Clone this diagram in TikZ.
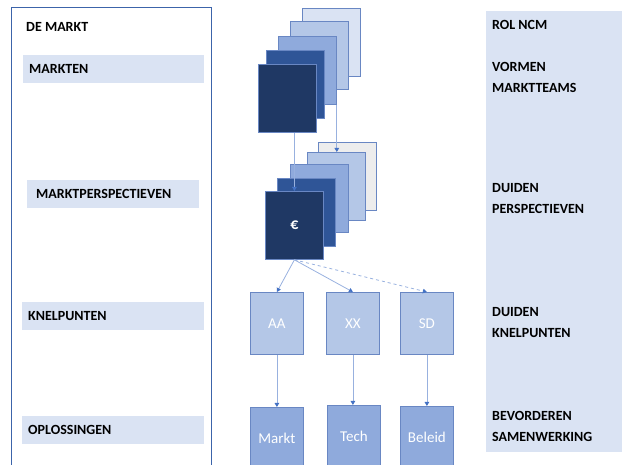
\documentclass[tikz,border=0pt]{standalone}
\usepackage{fontspec}
\setmainfont{Carlito}
\usetikzlibrary{positioning,arrows.meta,calc}
\definecolor{bandblue}{RGB}{218,227,243}
\definecolor{frameblue}{RGB}{60,100,170}
\definecolor{navy}{RGB}{31,56,100}
\definecolor{darkblue}{RGB}{47,85,151}
\definecolor{midblue}{RGB}{143,170,220}
\definecolor{lightblue}{RGB}{180,199,231}
\definecolor{paleblue}{RGB}{218,227,243}
\definecolor{palegrey}{RGB}{237,237,237}
\definecolor{edgeblue}{RGB}{105,135,195}
\definecolor{linkblue}{RGB}{68,114,196}

\begin{document}
\begin{tikzpicture}[x=1pt,y=-1pt,
		band/.style={fill=bandblue,anchor=north west,inner xsep=6pt,inner ysep=0pt,
			minimum height=28pt,align=left,font=\fontsize{14}{16}\selectfont\bfseries},
		role/.style={anchor=west,align=left,inner sep=0pt,
			font=\fontsize{14}{21}\selectfont\bfseries},
		sheet/.style={draw=edgeblue,line width=0.8pt,anchor=north west,inner sep=0pt,
			minimum width=58pt,minimum height=68pt},
		card/.style={draw=edgeblue,line width=0.8pt,anchor=north west,inner sep=0pt,
			minimum width=53pt,minimum height=62pt,text=white,font=\fontsize{15}{17}\selectfont},
		link/.style={draw=linkblue!55,line width=0.8pt,
			-{Triangle[length=4pt,width=4.5pt,color=linkblue]}}]
	\useasboundingbox (0,0) rectangle (622,465);
	\clip (0,0) rectangle (622,465);

	% linker kolom: de markt
	\draw[frameblue,line width=1pt] (11,470) |- (211,8) -- (211,470);
	\node[anchor=west,inner sep=0pt,font=\fontsize{14}{16}\selectfont\bfseries] (demarkt) at (26,27) {DE MARKT};
	\node[band,text width=169pt] (markten) at (23,55) {MARKTEN};
	\node[band,text width=160pt,inner xsep=6pt] (perspectieven) at (27,180) {\hspace{3pt}MARKTPERSPECTIEVEN};
	\node[band,text width=170pt] (knelpunten) at (22,302) {KNELPUNTEN};
	\node[band,text width=170pt] (oplossingen) at (22,416) {OPLOSSINGEN};

	% rechter kolom: rol NCM
	\node[fill=bandblue,anchor=north west,inner sep=0pt,minimum width=136pt,minimum height=441pt] (rolband) at (486,11) {};
	\node[role] (rol) at (492,25) {ROL NCM};
	\node[role] (teams) at (492,77) {VORMEN\\MARKTTEAMS};
	\node[role] (duidenp) at (492,199) {DUIDEN\\PERSPECTIEVEN};
	\node[role] (duidenk) at (492,323) {DUIDEN\\KNELPUNTEN};
	\node[role] (samen) at (492,426) {BEVORDEREN\\SAMENWERKING};

	% stapel markten
	\node[sheet,fill=paleblue] (m5) at (302,8) {};
	\node[sheet,fill=lightblue] (m4) at (290,21) {};
	\node[sheet,fill=midblue] (m3) at (278,36) {};
	\node[sheet,fill=darkblue] (m2) at (266,50) {};
	\node[sheet,fill=navy] (m1) at (258,64) {};

	% stapel perspectieven
	\node[sheet,fill=palegrey] (p5) at (318,142) {};
	\node[sheet,fill=lightblue] (p4) at (307,152) {};
	\node[sheet,fill=midblue] (p3) at (290,164) {};
	\node[sheet,fill=darkblue] (p2) at (277,178) {};
	\node[sheet,fill=navy,text=white,font=\fontsize{16}{18}\selectfont\bfseries] (p1) at (265,191) {€};

	% knelpunten en oplossingen
	\node[card,fill=lightblue] (aa) at (250,292) {AA};
	\node[card,fill=lightblue] (xx) at (326,292) {XX};
	\node[card,fill=lightblue] (sd) at (400,292) {SD};
	\node[card,fill=midblue] (markt) at (250,407) {Markt};
	\node[card,fill=midblue] (tech) at (327,405) {Tech};
	\node[card,fill=midblue] (beleid) at (400,406) {Beleid};

	% verbindingen
	\draw[link] (m1.south -| p1.north) -- (p1.north);
	\draw[link] (m3.south east) -- (m3.south east |- p4.north);
	\draw[link] (p1.south) -- (aa.north);
	\draw[link] (p1.south) -- (xx.north);
	\draw[link,dashed] (p1.south) -- (sd.north);
	\draw[link] (aa.south) -- (aa.south |- markt.north);
	\draw[link] (xx.south) -- (xx.south |- tech.north);
	\draw[link] (sd.south) -- (sd.south |- beleid.north);
\end{tikzpicture}
\end{document}
